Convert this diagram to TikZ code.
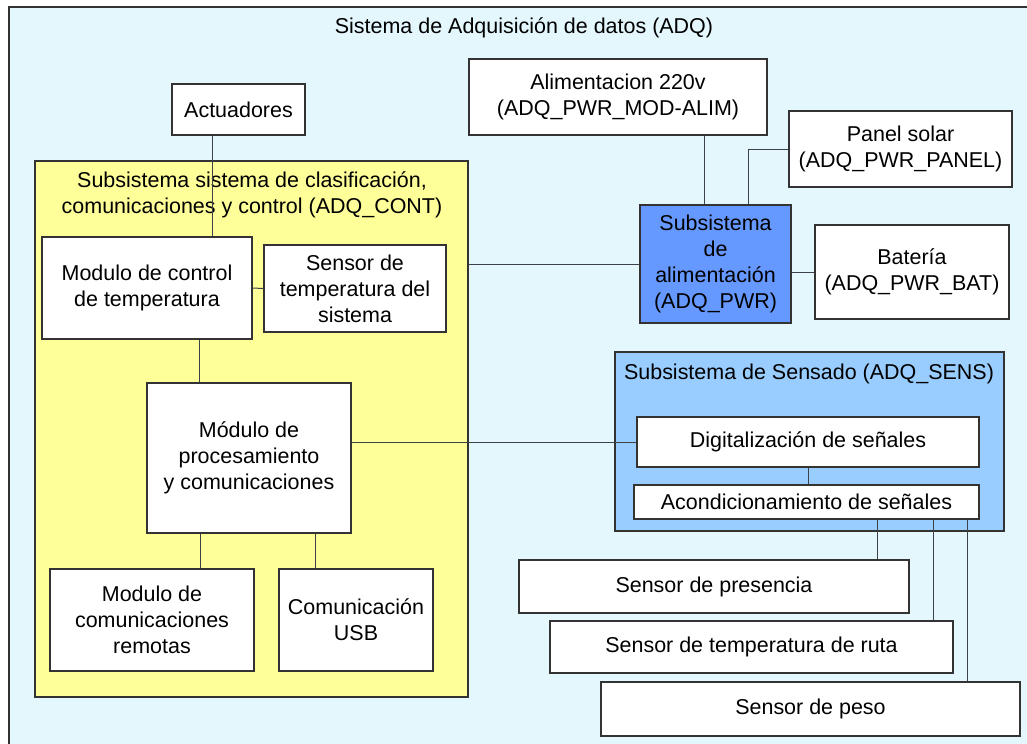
\documentclass[tikz,border=0pt]{standalone}
\usepackage{fontspec}
\setmainfont{Liberation Sans}
\usetikzlibrary{fit,calc}
\definecolor{bgcyan}{RGB}{228,247,252}
\definecolor{contyellow}{RGB}{255,255,153}
\definecolor{sensblue}{RGB}{153,204,255}
\definecolor{pwrblue}{RGB}{102,153,255}
\definecolor{edge}{RGB}{51,51,51}
\definecolor{wire}{RGB}{60,66,72}
\begin{document}
\begin{tikzpicture}[x=0.75pt,y=-0.75pt,
  font=\fontsize{16.1pt}{19.5pt}\selectfont,
  box/.style={draw=edge,line width=0.9pt,fill=white,inner sep=0pt,align=center},
  wh/.style 2 args={minimum width=#1*0.75pt,minimum height=#2*0.75pt},
  container/.style={draw=edge,line width=0.9pt,inner sep=0pt},
  ttl/.style={inner sep=0pt,align=center},
  wireline/.style={draw=wire,line width=0.75pt}]
\useasboundingbox (0,0) rectangle (1027,743);
\begin{scope}
\clip (0,0) rectangle (1027,743);
\node[container,fill=bgcyan,fit={(9,7)(1045,760)}] (adq) {};
\end{scope}
\node[ttl] (adqtitle) at (524,28) {Sistema de Adquisición de datos (ADQ)};
% containers
\node[container,fill=contyellow,fit={(35,161)(468,697)}] (cont) {};
\node[ttl] (conttitle) at (252,195) {Subsistema sistema de clasificación,\\comunicaciones y control (ADQ\_CONT)};
\node[container,fill=sensblue,fit={(615,352)(1004,531)}] (sens) {};
\node[ttl] (senstitle) at (809,374) {Subsistema de Sensado (ADQ\_SENS)};
% boxes
\node[box,wh={133}{51}] (act) at (238.5,109.5) {Actuadores};
\node[box,wh={210}{102}] (ctrl) at (147,288) {Modulo de control\\de temperatura};
\node[box,wh={182}{87}] (senssys) at (355,288.5) {Sensor de\\temperatura del\\sistema};
\node[box,wh={204}{150}] (proc) at (249,458) {Módulo de\\procesamiento\\y comunicaciones};
\node[box,wh={204}{102}] (remota) at (152,620) {Modulo de\\comunicaciones\\remotas};
\node[box,wh={154}{102}] (usb) at (356,620) {Comunicación\\USB};
\node[box,wh={298}{76}] (alim) at (618,97) {Alimentacion 220v\\(ADQ\_PWR\_MOD-ALIM)};
\node[box,wh={223}{76}] (panel) at (900.5,149) {Panel solar\\(ADQ\_PWR\_PANEL)};
\node[box,fill=pwrblue,wh={151}{118}] (pwr) at (715.5,264) {Subsistema\\de\\alimentación\\(ADQ\_PWR)};
\node[box,wh={194}{94}] (bat) at (912,272) {Batería\\(ADQ\_PWR\_BAT)};
\node[box,wh={342}{50}] (digit) at (808,442) {Digitalización de señales};
\node[box,wh={345}{34}] (acond) at (806.5,502) {Acondicionamiento de señales};
\node[box,wh={390}{53}] (pres) at (714,586.5) {Sensor de presencia};
\node[box,wh={403}{52}] (ruta) at (751.5,647) {Sensor de temperatura de ruta};
\node[box,wh={419}{54}] (peso) at (810.5,709) {Sensor de peso};
% connector x positions
\coordinate (xact) at (212,0);
\coordinate (xctrl) at (199,0);
\coordinate (xrem) at (200,0);
\coordinate (xusb) at (315,0);
\coordinate (xalim) at (704,0);
\coordinate (xpanel) at (748,0);
\coordinate (xpres) at (877,0);
\coordinate (xruta) at (933,0);
\coordinate (xpeso) at (967,0);
% connectors
\draw[wireline] (act.south -| xact) -- (ctrl.north -| xact);
\draw[wireline] (ctrl.east) -- (senssys.west);
\draw[wireline] (ctrl.south -| xctrl) -- (proc.north -| xctrl);
\draw[wireline] (proc.south -| xrem) -- (remota.north -| xrem);
\draw[wireline] (proc.south -| xusb) -- (usb.north -| xusb);
\draw[wireline] (proc.east |- digit.west) -- (digit.west);
\draw[wireline] (cont.east |- pwr.west) -- (pwr.west);
\draw[wireline] (alim.south -| xalim) -- (pwr.north -| xalim);
\draw[wireline] (panel.west) -| (pwr.north -| xpanel);
\draw[wireline] (pwr.east |- bat.west) -- (bat.west);
\draw[wireline] (digit.south) -- (acond.north -| digit.south);
\draw[wireline] (acond.south -| xpres) -- (pres.north -| xpres);
\draw[wireline] (acond.south -| xruta) -- (ruta.north -| xruta);
\draw[wireline] (acond.south -| xpeso) -- (peso.north -| xpeso);
\end{tikzpicture}
\end{document}
